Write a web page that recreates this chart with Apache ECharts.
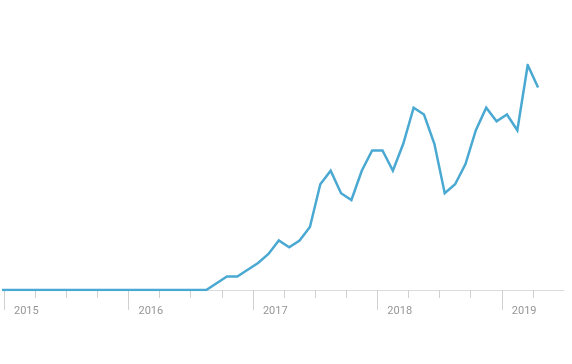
<!DOCTYPE html>
<html>
<head>
<meta charset="utf-8">
<script src="https://cdn.jsdelivr.net/npm/echarts@6/dist/echarts.min.js"></script>
<style>html,body{margin:0;padding:0;background:#fff;}#c{width:572px;height:364px;}</style>
</head>
<body>
<div id="c"></div>
<script>
// monthly points (plotted mid-month)
const months = [
  '2014-12',
  '2015-01','2015-02','2015-03','2015-04','2015-05','2015-06','2015-07','2015-08','2015-09','2015-10','2015-11','2015-12',
  '2016-01','2016-02','2016-03','2016-04','2016-05','2016-06','2016-07','2016-08','2016-09','2016-10','2016-11','2016-12',
  '2017-01','2017-02','2017-03','2017-04','2017-05','2017-06','2017-07','2017-08','2017-09','2017-10','2017-11','2017-12',
  '2018-01','2018-02','2018-03','2018-04','2018-05','2018-06','2018-07','2018-08','2018-09','2018-10','2018-11','2018-12',
  '2019-01','2019-02','2019-03','2019-04'
];
const values = [
  0,
  0,0,0,0,0,0,0,0,0,0,0,0,
  0,0,0,0,0,0,0,0,3,6,6,9,
  12,16,22,19,22,28,47,53,43,40,53,62,
  62,53,65,81,78,65,43,47,56,71,81,75,
  78,71,100,90
];
const yearTicks = [2015, 2016, 2017, 2018, 2019];
const quarterTicks = [];
for (const y of [2015, 2016, 2017, 2018, 2019]) {
  for (const q of [0.25, 0.5, 0.75]) {
    if (y + q < 2019.5) quarterTicks.push(y + q);
  }
}

const seriesData = months.map((m, i) => {
  const [y, mo] = m.split('-').map(Number);
  return [y + (mo - 0.5) / 12, values[i]];
});

const chart = echarts.init(document.getElementById('c'), null, {renderer: 'canvas'});
chart.setOption({
  animation: false,
  backgroundColor: '#ffffff',
  grid: {left: 4, right: 8, top: 65, bottom: 74, containLabel: false},
  xAxis: [
    {
      type: 'value', position: 'bottom', offset: 0,
      min: 2015, max: 2019.5, interval: 0.25,
      axisLine: {show: true, lineStyle: {color: '#dcdcdc', width: 1}},
      axisTick: {show: true, length: 8, customValues: quarterTicks, lineStyle: {color: '#d0d0d0', width: 1}},
      axisLabel: {show: false},
      splitLine: {show: false}
    },
    {
      type: 'value', position: 'bottom', offset: 0,
      min: 2015, max: 2019.5, interval: 0.5,
      axisLine: {show: false},
      axisTick: {show: true, length: 20, customValues: yearTicks, lineStyle: {color: '#d0d0d0', width: 1}},
      axisLabel: {
        show: true, customValues: yearTicks,
        formatter: v => String(Math.round(v)),
        align: 'left', padding: [0, 0, 0, 10], margin: 16,
        color: '#969696', fontSize: 11, fontFamily: 'Roboto'
      },
      splitLine: {show: false}
    }
  ],
  yAxis: {
    type: 'value', min: 0, max: 100, show: false,
    splitLine: {show: false}
  },
  series: [{
    type: 'line',
    xAxisIndex: 0,
    data: seriesData,
    showSymbol: false,
    clip: true,
    lineStyle: {color: '#4aa9d2', width: 2.5, join: 'miter'},
    itemStyle: {color: '#4aa9d2'}
  }]
});
</script>
</body>
</html>
